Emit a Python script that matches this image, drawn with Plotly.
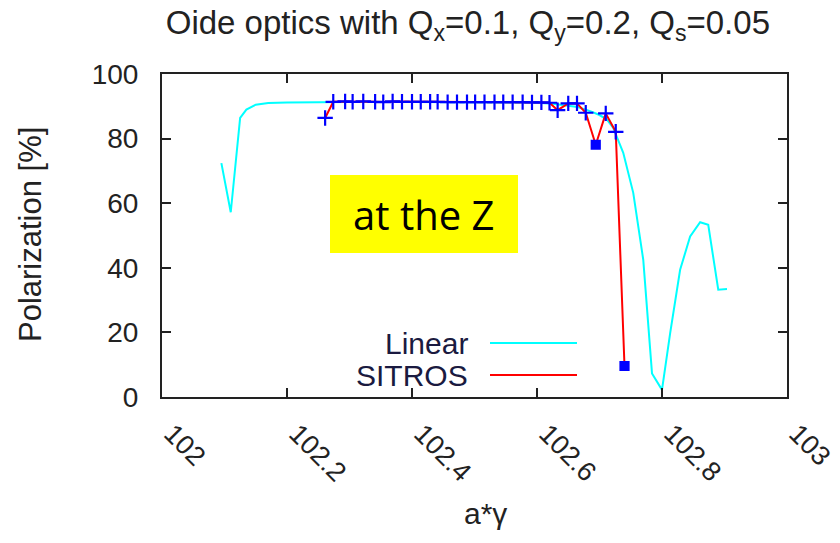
import plotly.graph_objects as go

# Linear (cyan) curve
lin_x = [102.095, 102.110, 102.125, 102.135, 102.150, 102.170, 102.200, 102.250, 102.300,
         102.400, 102.500, 102.600, 102.625, 102.645, 102.665, 102.685, 102.700, 102.712,
         102.722, 102.738, 102.754, 102.770, 102.784, 102.800, 102.813, 102.829, 102.845,
         102.861, 102.874, 102.890, 102.904]
lin_y = [72.4, 57.2, 86.4, 89.0, 90.5, 91.0, 91.2, 91.3, 91.3,
         91.3, 91.3, 91.1, 90.8, 90.4, 89.8, 88.5, 87.3, 85.9,
         83.3, 75.6, 63.2, 42.5, 7.3, 2.2, 19.7, 39.4, 49.7,
         54.1, 53.3, 33.2, 33.4]

# SITROS (red line, blue markers)
sit_x = [102.261, 102.274, 102.293, 102.305, 102.322, 102.341, 102.354, 102.369, 102.384,
         102.400, 102.414, 102.429, 102.441, 102.457, 102.472, 102.488, 102.501, 102.516,
         102.532, 102.546, 102.561, 102.577, 102.592, 102.607, 102.620, 102.633, 102.650,
         102.664, 102.678, 102.694, 102.710, 102.726, 102.740]
sit_y = [86.4, 91.4, 91.5, 91.4, 91.5, 91.4, 91.3, 91.5, 91.4,
         91.4, 91.4, 91.4, 91.4, 91.3, 91.3, 91.3, 91.3, 91.3,
         91.3, 91.3, 91.3, 91.3, 91.2, 91.2, 91.1, 88.8, 90.9,
         90.9, 88.0, 78.1, 87.8, 82.1, 9.6]
sit_sym = ["cross-thin"] * 29 + ["square", "cross-thin", "cross-thin", "square"]

x_ticks = [102, 102.2, 102.4, 102.6, 102.8, 103]
x_tick_labels = ["102", "102.2", "102.4", "102.6", "102.8", "103"]
y_ticks = [0, 20, 40, 60, 80, 100]

sit_size = [8 if s == "square" else 11 for s in sit_sym]

fig = go.Figure()
fig.add_trace(go.Scatter(x=lin_x, y=lin_y, mode="lines", name="Linear",
                         line=dict(color="#00ffff", width=2), showlegend=False))
fig.add_trace(go.Scatter(x=sit_x, y=sit_y, mode="lines+markers", name="SITROS",
                         line=dict(color="#ff0000", width=2),
                         marker=dict(symbol=sit_sym, size=sit_size, color="#0000ff", opacity=1,
                                     line=dict(color="#0000ff", width=2.2)),
                         showlegend=False))

# Yellow label box
fig.add_shape(type="rect", xref="paper", yref="paper", x0=0.2688, x1=0.5696, y0=0.4458, y1=0.687,
              fillcolor="#ffff00", line=dict(width=0), layer="below")
fig.add_annotation(xref="paper", yref="paper", x=0.4184, y=0.566, text="at the Z", showarrow=False,
                   xanchor="center", yanchor="middle",
                   font=dict(family="Open Sans", size=40, color="black"))

# Manual legend (gnuplot style)
leg_font = dict(family="Liberation Sans, Arial", size=30, color="#1a1a40")
fig.add_annotation(xref="paper", yref="paper", x=0.4928, y=0.167, text="Linear", showarrow=False,
                   xanchor="right", yanchor="middle", font=leg_font)
fig.add_annotation(xref="paper", yref="paper", x=0.4928, y=0.068, text="SITROS", showarrow=False,
                   xanchor="right", yanchor="middle", font=leg_font)
fig.add_shape(type="line", xref="paper", yref="paper", x0=0.5248, x1=0.664, y0=0.167, y1=0.167,
              line=dict(color="#00ffff", width=2))
fig.add_shape(type="line", xref="paper", yref="paper", x0=0.5248, x1=0.664, y0=0.068, y1=0.068,
              line=dict(color="#ff0000", width=2))

# Axis titles
fig.add_annotation(xref="paper", yref="paper", x=-0.2112, y=0.5015, text="Polarization [%]",
                   showarrow=False, textangle=-90, xanchor="center", yanchor="middle",
                   font=dict(family="Liberation Sans, Arial", size=31, color="#222"))
fig.add_annotation(xref="paper", yref="paper", x=0.5168, y=-0.36, text="a*γ",
                   showarrow=False, xanchor="center", yanchor="middle",
                   font=dict(family="Liberation Sans, Arial", size=30, color="#222"))

fig.update_layout(
    width=840, height=543,
    margin=dict(l=162, r=53, t=74, b=146, autoexpand=False),
    paper_bgcolor="white", plot_bgcolor="white",
    title=dict(text="Oide optics with Q<sub>x</sub>=0.1, Q<sub>y</sub>=0.2, Q<sub>s</sub>=0.05",
               x=0.557, xanchor="center", y=0.958, yanchor="middle",
               font=dict(family="Liberation Sans, Arial", size=33, color="#222")),
)
fig.update_xaxes(range=[102, 103], tickvals=x_ticks, ticktext=x_tick_labels, tickangle=45,
                 ticks="inside", ticklen=9, tickcolor="#222", tickwidth=1.5,
                 showline=True, linecolor="#222", linewidth=2, mirror="ticks",
                 showgrid=False, zeroline=False, ticklabelstandoff=8, ticklabelshift=10,
                 ticklabeloverflow="allow", automargin=False,
                 tickfont=dict(family="Liberation Sans, Arial", size=27, color="#222"))
fig.update_yaxes(range=[0, 100], tickvals=y_ticks, ticks="inside", ticklen=9, tickcolor="#222",
                 tickwidth=1.5, showline=True, linecolor="#222", linewidth=2, mirror="ticks",
                 showgrid=False, zeroline=False, ticklabelstandoff=16, automargin=False,
                 tickfont=dict(family="Liberation Sans, Arial", size=28, color="#222"))

fig.write_html("out.html")
